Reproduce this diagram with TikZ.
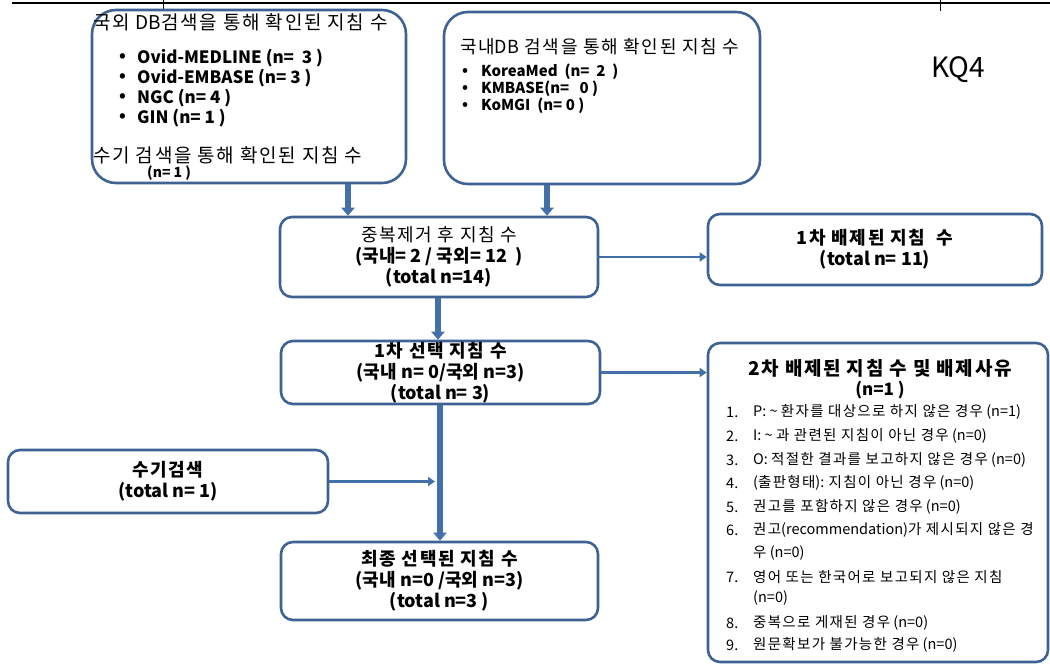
\documentclass[tikz,border=0pt]{standalone}
\usepackage{fontspec}
\setmainfont{Noto Sans CJK KR}
\newfontfamily\ksp{Noto Sans CJK KR}[LetterSpace=9]
\usetikzlibrary{arrows.meta}
\definecolor{bordc}{HTML}{3E6293}
\definecolor{arrc}{HTML}{4470A8}
\tikzset{
  box/.style={draw=bordc, line width=2.6pt, rounded corners=12pt, fill=white, inner sep=0pt, align=center},
  bigbox/.style={box, rounded corners=24pt},
  tarr/.style={draw=arrc, line width=6pt, -{Triangle[width=13pt,length=8pt]}},
  narr/.style={draw=arrc, line width=2.2pt, -{Triangle[width=9pt,length=7pt]}},
  lt/.style={inner sep=0pt, anchor=west},
  ct/.style={inner sep=0pt},
  ftitle/.style={font=\fontsize{19}{21}\selectfont\ksp},
  fbul/.style={font=\fontsize{17}{19}\selectfont\bfseries},
  fsmall/.style={font=\fontsize{15}{17}\selectfont\bfseries},
  flist/.style={font=\fontsize{14.5}{16}\selectfont},
  fbox/.style={font=\fontsize{18}{21}\selectfont\bfseries}
}
\begin{document}
\begin{tikzpicture}[x=1pt,y=-1pt]
\useasboundingbox (0,0) rectangle (1050,665);
% table rule at the top
\draw[line width=2.8pt] (12,3) -- (1050,3);
\draw[line width=1pt] (163,0) -- (163,11) (940,0) -- (940,11);

% boxes
\node[bigbox, minimum width=314pt, minimum height=173pt] (A) at (249,96.5) {};
\node[bigbox, minimum width=316pt, minimum height=172pt] (B) at (602,98) {};
\node[box, fbox, minimum width=318pt, minimum height=80pt] (C) at (439,257)
  {{\ksp\mdseries 중복제거 후 지침 수}\\(국내= 2 / 국외= 12 \ )\\(total n=14)};
\node[box, fbox, minimum width=334pt, minimum height=71pt] (D) at (875,249.5)
  {{\ksp 1차 배제된 지침 \ 수}\\(total n= 11)};
\node[box, fbox, minimum width=319pt, minimum height=63pt] (E) at (440.5,372.5)
  {{\ksp 1차 선택 지침 수}\\(국내 n= 0/국외 n=3)\\(total n= 3)};
\node[box, minimum width=340pt, minimum height=319pt] (F) at (878,502.5) {};
\node[box, fbox, minimum width=320pt, minimum height=63pt] (G) at (168,481.5)
  {{\ksp 수기검색}\\(total n= 1)};
\node[box, fbox, minimum width=317pt, minimum height=78pt] (H) at (439.5,581)
  {{\ksp 최종 선택된 지침 수}\\(국내 n=0 /국외 n=3)\\(total n=3 )};

% text in box A
\node[lt, ftitle] (a1) at (93,22) {국외 {\rmfamily DB}검색을 통해 확인된 지침 수};
\foreach \yy/\tx [count=\i] in {58/{Ovid-MEDLINE (n= \ 3 )}, 78/{Ovid-EMBASE (n= 3 )}, 98/{NGC (n= 4 )}, 118/{GIN (n= 1 )}}{
  \node[lt, fbul] (ab\i) at (119,\yy) {•};
  \node[lt, fbul] (at\i) at (137,\yy) {\tx};
}
\node[lt, ftitle] (a2) at (93,155) {수기 검색을 통해 확인된 지침 수};
\node[lt, font=\fontsize{14}{16}\selectfont\bfseries] (a3) at (147,173) {(n= 1 )};

% text in box B
\node[lt, font=\fontsize{18}{20}\selectfont\ksp] (b1) at (460,47) {국내{\rmfamily DB} 검색을 통해 확인된 지침 수};
\foreach \yy/\tx [count=\i] in {72/{KoreaMed \ (n= \ 2 \ )}, 89/{KMBASE(n= \ \ 0 )}, 106/{KoMGI \ (n= 0 )}}{
  \node[lt, fsmall] (bb\i) at (462,\yy) {•};
  \node[lt, fsmall] (bt\i) at (481,\yy) {\tx};
}

% KQ4
\node[ct, font=\fontsize{28}{30}\selectfont] (kq) at (958,70) {KQ4};

% text in box F
\node[ct, font=\fontsize{19}{21}\selectfont\bfseries\ksp] (f1) at (880,368) {2차 배제된 지침 수 및 배제사유};
\node[ct, font=\fontsize{17}{19}\selectfont\bfseries] (f2) at (880,390) {(n=1 )};
\foreach \yy/\nn/\tx [count=\i] in {
  412/1./{P: \textasciitilde{} {\ksp 환자를 대상으로 하지 않은 경우} (n=1)},
  436/2./{I: \textasciitilde{} {\ksp 과 관련된 지침이 아닌 경우} (n=0)},
  460/3./{O: {\ksp 적절한 결과를 보고하지 않은 경우} (n=0)},
  483/4./{({\ksp 출판형태}): {\ksp 지침이 아닌 경우} (n=0)},
  507/5./{{\ksp 권고를 포함하지 않은 경우} (n=0)},
  530/6./{{\ksp 권고}(recommendation){\ksp 가 제시되지 않은 경}},
  577/7./{{\ksp 영어 또는 한국어로 보고되지 않은 지침}},
  623/8./{{\ksp 중복으로 게재된 경우} (n=0)},
  645/9./{{\ksp 원문확보가 불가능한 경우} (n=0)}}{
  \node[lt, flist] (fn\i) at (726,\yy) {\nn};
  \node[lt, flist] (ft\i) at (753,\yy) {\tx};
}
\node[lt, flist] (ft6b) at (753,553) {{\ksp 우} (n=0)};
\node[lt, flist] (ft7b) at (753,598) {(n=0)};

% connectors
\coordinate (xa) at (348,0);
\coordinate (xb) at (547,0);
\coordinate (xc) at (438,0);
\coordinate (xe) at (440,0);
\coordinate (xg) at (435,0);
\draw[tarr] (A.south -| xa) -- (C.north -| xa);
\draw[tarr] (B.south -| xb) -- (C.north -| xb);
\draw[tarr] (C.south -| xc) -- (E.north -| xc);
\draw[tarr] (E.south -| xe) -- (H.north -| xe);
\draw[narr] (C.east) -- (C.east -| D.west);
\draw[narr] (E.east) -- (E.east -| F.west);
\draw[narr] (G.east) -- (G.east -| xg);
\end{tikzpicture}
\end{document}
